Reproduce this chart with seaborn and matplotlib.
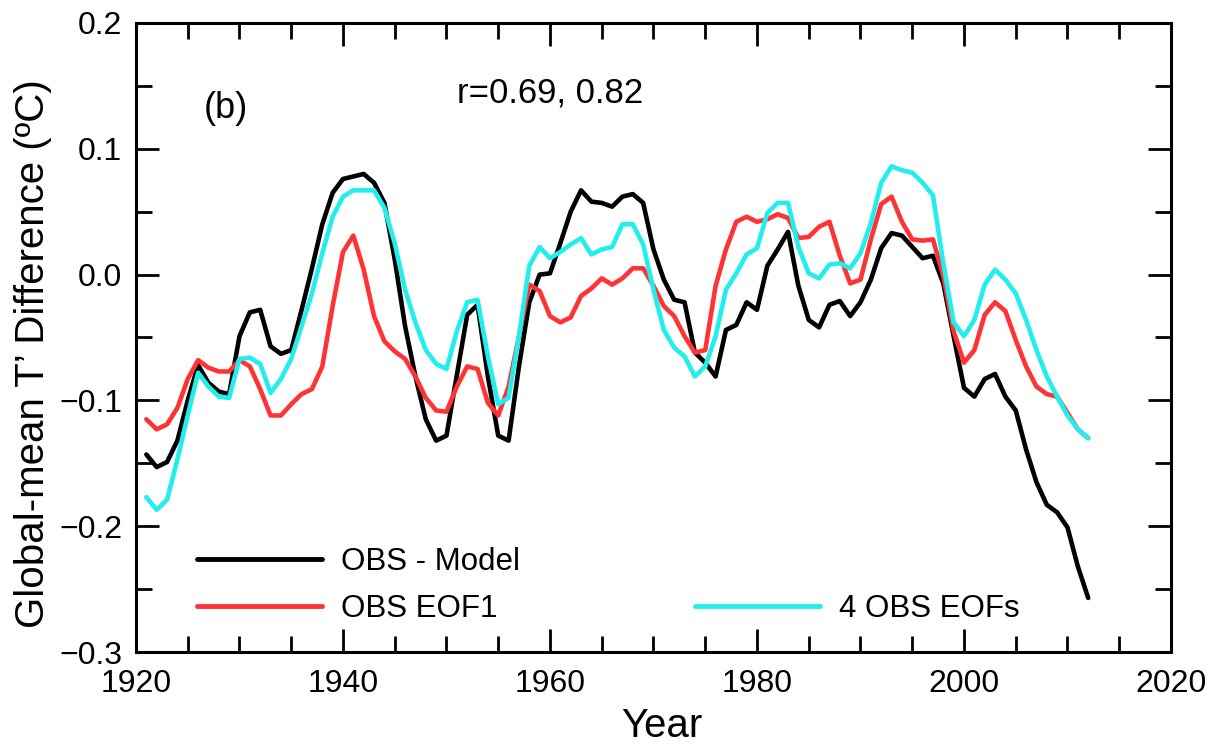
import numpy as np
import pandas as pd
import matplotlib
matplotlib.use("Agg")
import matplotlib.pyplot as plt
from matplotlib.lines import Line2D
from matplotlib.ticker import MultipleLocator, FuncFormatter
import seaborn as sns

# Annual global-mean temperature differences (degC), 1921-2012
years = np.arange(1921, 2013)

obs_minus_model = [
    -0.143, -0.153, -0.149, -0.132, -0.100, -0.072, -0.086, -0.093, -0.095, -0.049,
    -0.030, -0.028, -0.057, -0.063, -0.060, -0.028, 0.005, 0.040, 0.065, 0.076,
    0.078, 0.080, 0.073, 0.057, 0.012, -0.041, -0.081, -0.115, -0.132, -0.128,
    -0.080, -0.032, -0.024, -0.081, -0.128, -0.132, -0.073, -0.022, 0.000, 0.001,
    0.025, 0.050, 0.067, 0.058, 0.057, 0.054, 0.062, 0.064, 0.057, 0.020,
    -0.004, -0.020, -0.022, -0.062, -0.070, -0.081, -0.044, -0.040, -0.022, -0.028,
    0.007, 0.020, 0.034, -0.009, -0.036, -0.042, -0.024, -0.021, -0.033, -0.022,
    -0.004, 0.021, 0.033, 0.031, 0.022, 0.013, 0.015, -0.007, -0.049, -0.090,
    -0.097, -0.083, -0.079, -0.097, -0.108, -0.139, -0.165, -0.183, -0.189, -0.201,
    -0.232, -0.257,
]

obs_eof1 = [
    -0.115, -0.123, -0.119, -0.106, -0.083, -0.068, -0.074, -0.077, -0.077, -0.068,
    -0.073, -0.091, -0.112, -0.112, -0.103, -0.095, -0.091, -0.073, -0.025, 0.018,
    0.031, 0.004, -0.033, -0.053, -0.061, -0.067, -0.081, -0.098, -0.108, -0.109,
    -0.089, -0.073, -0.075, -0.102, -0.112, -0.089, -0.049, -0.008, -0.013, -0.033,
    -0.038, -0.034, -0.017, -0.011, -0.003, -0.008, -0.003, 0.005, 0.005, -0.009,
    -0.025, -0.033, -0.049, -0.062, -0.060, -0.009, 0.020, 0.042, 0.046, 0.042,
    0.044, 0.048, 0.045, 0.029, 0.030, 0.038, 0.042, 0.015, -0.007, -0.004,
    0.028, 0.056, 0.062, 0.042, 0.028, 0.027, 0.028, -0.001, -0.045, -0.070,
    -0.060, -0.032, -0.022, -0.029, -0.052, -0.073, -0.089, -0.095, -0.097, -0.110,
    -0.123, -0.130,
]

obs_4eofs = [
    -0.177, -0.187, -0.179, -0.147, -0.112, -0.078, -0.089, -0.097, -0.098, -0.067,
    -0.066, -0.071, -0.094, -0.083, -0.067, -0.041, -0.015, 0.017, 0.046, 0.062,
    0.067, 0.067, 0.067, 0.053, 0.025, -0.012, -0.038, -0.060, -0.071, -0.075,
    -0.045, -0.022, -0.020, -0.065, -0.103, -0.098, -0.049, 0.007, 0.022, 0.013,
    0.018, 0.024, 0.029, 0.016, 0.020, 0.022, 0.040, 0.040, 0.024, -0.012,
    -0.044, -0.058, -0.065, -0.081, -0.073, -0.049, -0.012, 0.001, 0.016, 0.021,
    0.049, 0.057, 0.057, 0.022, 0.001, -0.003, 0.008, 0.009, 0.005, 0.017,
    0.041, 0.073, 0.086, 0.083, 0.081, 0.073, 0.063, 0.009, -0.038, -0.049,
    -0.036, -0.008, 0.004, -0.004, -0.015, -0.036, -0.060, -0.081, -0.097, -0.112,
    -0.123, -0.130,
]

series_names = ["OBS - Model", "OBS EOF1", "4 OBS EOFs"]
series_colors = ["#000000", "#ff3333", "#22eeee"]

df = pd.concat(
    [
        pd.DataFrame({"Year": years, "value": vals, "series": name})
        for name, vals in zip(series_names, [obs_minus_model, obs_eof1, obs_4eofs])
    ],
    ignore_index=True,
)

sns.set_style("ticks")
plt.rcParams["font.family"] = ["Liberation Sans", "DejaVu Sans"]
plt.rcParams["text.color"] = "black"
plt.rcParams["axes.labelcolor"] = "black"
plt.rcParams["xtick.color"] = "black"
plt.rcParams["ytick.color"] = "black"

fig = plt.figure(figsize=(12.24, 7.49), dpi=100)
ax = fig.add_axes([0.1111, 0.1295, 0.8456, 0.8398])

sns.lineplot(
    data=df, x="Year", y="value", hue="series", hue_order=series_names,
    palette=dict(zip(series_names, series_colors)), linewidth=3.3,
    estimator=None, sort=False, legend=False, ax=ax,
)

ax.set_xlim(1920, 2020)
ax.set_ylim(-0.3, 0.2)
ax.xaxis.set_major_locator(MultipleLocator(20))
ax.xaxis.set_minor_locator(MultipleLocator(5))
ax.yaxis.set_major_locator(MultipleLocator(0.1))
ax.yaxis.set_minor_locator(MultipleLocator(0.05))
ax.yaxis.set_major_formatter(FuncFormatter(lambda v, p: f"{v:.1f}".replace("-", "\u2212")))

for side in ["left", "right", "top", "bottom"]:
    ax.spines[side].set_linewidth(2.2)
    ax.spines[side].set_color("black")

ax.tick_params(which="both", direction="in", top=True, right=True, width=2.0,
               color="black", labelcolor="black")
ax.tick_params(which="major", length=16.5, labelsize=23)
ax.tick_params(which="minor", length=11.5)
ax.tick_params(axis="x", which="major", pad=12)
ax.tick_params(axis="y", which="major", pad=10)

ax.set_xlabel("Year", fontsize=29, color="black")
ax.set_ylabel("Global-mean T\u2019 Difference (\u00baC)", fontsize=29, color="black")
ax.xaxis.set_label_coords(0.508, -0.087)
ax.yaxis.set_label_coords(-0.081, 0.474)

ax.text(0.0657, 0.849, "(b)", transform=ax.transAxes, fontsize=26, va="baseline", ha="left")
ax.text(0.310, 0.873, "r=0.69, 0.82", transform=ax.transAxes, fontsize=25, va="baseline", ha="left")

handles = [
    Line2D([], [], color=series_colors[0], linewidth=3.5),
    Line2D([], [], color=series_colors[1], linewidth=3.5),
    Line2D([], [], color="none"),
    Line2D([], [], color=series_colors[2], linewidth=3.5),
]
labels = [series_names[0], series_names[1], "", series_names[2]]
ax.legend(
    handles, labels, ncol=2, frameon=False, fontsize=22.5,
    loc="lower left", bbox_to_anchor=(0.059, 0.045), borderpad=0, borderaxespad=0,
    handlelength=4.0, handletextpad=0.6, columnspacing=5.6, labelspacing=0.54,
)

fig.savefig("out.png", dpi=100)
